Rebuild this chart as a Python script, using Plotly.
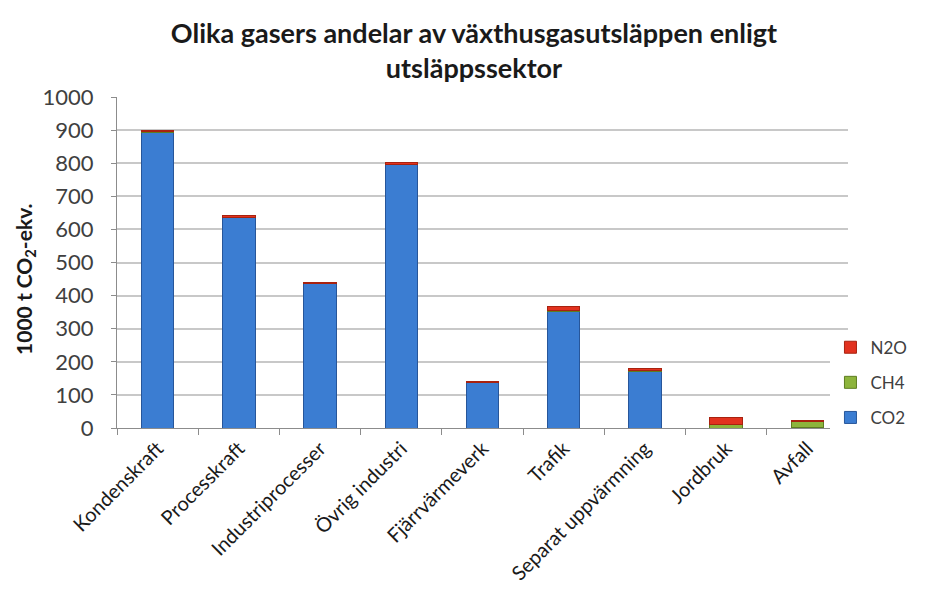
import plotly.graph_objects as go

categories = ["Kondenskraft", "Processkraft", "Industriprocesser", "Övrig industri",
              "Fjärrvärmeverk", "Trafik", "Separat uppvärmning", "Jordbruk", "Avfall"]
co2 = [894, 636, 437, 795, 137, 352, 172, 0, 2]
ch4 = [1, 1, 1, 1, 1, 2, 3, 12, 17]
n2o = [3, 4, 2, 5, 3, 14, 4, 20, 3]

FONT = "Lato"
fig = go.Figure()
fig.add_bar(x=categories, y=co2, name="CO2", legendgroup="a", legendrank=3,
            marker=dict(color="#3B7DD2", line=dict(color="#27569a", width=1)))
fig.add_bar(x=categories, y=ch4, name="CH4", legendgroup="b", legendrank=2,
            marker=dict(color="#8DB43C", line=dict(color="#5e7d22", width=1)))
fig.add_bar(x=categories, y=n2o, name="N2O", legendgroup="c", legendrank=1,
            marker=dict(color="#E2321F", line=dict(color="#a8220f", width=1)))

fig.add_annotation(text="<b>1000 t CO<sub>2</sub>-ekv.</b>", textangle=-90,
                   xref="paper", yref="paper", x=-0.126, y=0.45,
                   xanchor="center", yanchor="middle", showarrow=False,
                   font=dict(family=FONT, size=21, color="#1a1a1a"))

fig.update_layout(
    width=932, height=602,
    barmode="stack", bargap=0.6,
    plot_bgcolor="white", paper_bgcolor="white",
    margin=dict(l=109, r=92, t=89, b=182),
    font=dict(family=FONT, color="#404040", size=18),
    title=dict(text="<b>Olika gasers andelar av växthusgasutsläppen enligt<br>utsläppssektor</b>",
               x=0.5, xanchor="center", yref="container", y=0.942, yanchor="top",
               font=dict(family=FONT, size=27, color="#1a1a1a")),
    legend=dict(x=0.976, xanchor="left", y=0.297, yanchor="top",
                traceorder="grouped", tracegroupgap=10,
                font=dict(size=17, color="#404040")),
    xaxis=dict(showline=True, linecolor="#8c8c8c", ticks="outside", tickson="boundaries",
               ticklen=6, tickcolor="#8c8c8c", tickangle=-45,
               tickfont=dict(size=20, color="#1a1a1a")),
    yaxis=dict(range=[0, 1000], dtick=100, showline=True, linecolor="#8c8c8c",
               ticks="outside", ticklen=5, tickcolor="#8c8c8c",
               gridcolor="#c8c8c8", gridwidth=1.5,
               ticklabelstandoff=13,
               tickfont=dict(size=22, color="#404040")),
)
fig.write_html("out.html")
